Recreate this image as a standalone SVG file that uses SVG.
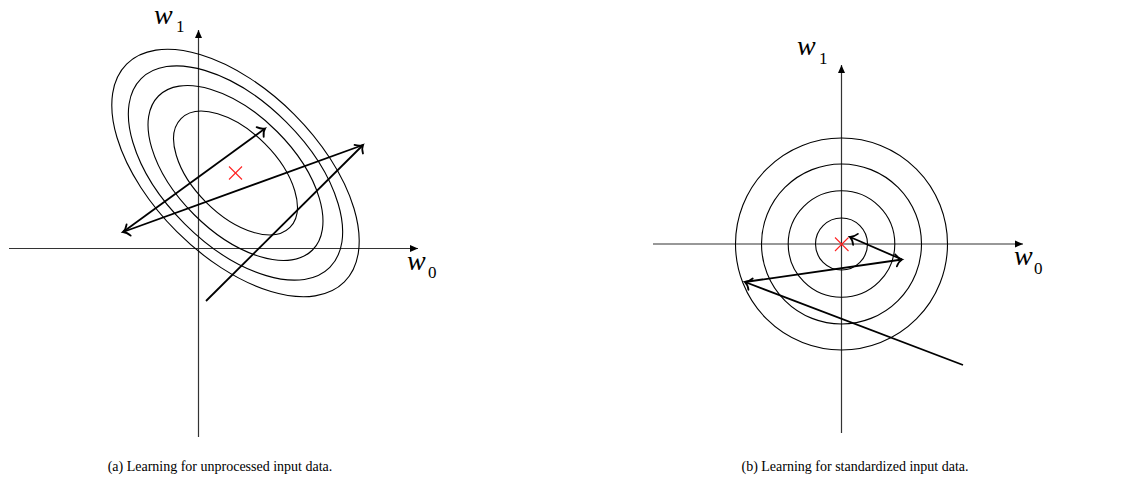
<svg xmlns="http://www.w3.org/2000/svg" width="1141" height="481" viewBox="0 0 1141 481">
<style>
.axis{stroke:#333;stroke-width:1.2;fill:none}
.ct{stroke:#000;stroke-width:1.1;fill:none}
.step{stroke:#000;stroke-width:1.8;fill:none;marker-end:url(#to)}
.opt{stroke:#ff2020;stroke-width:1.1}
.lbl{font-family:"Liberation Serif",serif;font-style:italic;font-size:28px;fill:#000}
.sub{font-family:"Liberation Serif",serif;font-size:17px;fill:#000}
.cap{font-family:"Liberation Serif",serif;font-size:14px;fill:#000;text-anchor:middle}
</style>
<defs>
<marker id="tri" markerUnits="userSpaceOnUse" markerWidth="12" markerHeight="12" refX="8" refY="0" viewBox="-2 -6 12 12" orient="auto">
<path d="M0,-3.5 L8,0 L0,3.5 Z" fill="#000"/>
</marker>
<marker id="to" markerUnits="userSpaceOnUse" markerWidth="14" markerHeight="14" refX="0" refY="0" viewBox="-8 -7 14 14" orient="auto" overflow="visible">
<path d="M-6,-6 C-4,-2.5 -1.5,-0.6 0,0 C-1.5,0.6 -4,2.5 -6,6" fill="none" stroke="#000" stroke-width="1.8" stroke-linecap="round"/>
</marker>
</defs>

<g id="panel-a">
<g id="axes-a">
<line class="axis" x1="9" y1="248.5" x2="418" y2="248.5" marker-end="url(#tri)"/>
<line class="axis" x1="198.5" y1="437" x2="198.5" y2="30" marker-end="url(#tri)"/>
</g>
<g id="contours-a" transform="translate(235.5,173) rotate(45)">
<ellipse class="ct" cx="0" cy="0" rx="77" ry="41.5"/>
<ellipse class="ct" cx="0" cy="0" rx="108.9" ry="58.7"/>
<ellipse class="ct" cx="0" cy="0" rx="133.4" ry="71.9"/>
<ellipse class="ct" cx="0" cy="0" rx="154" ry="83"/>
</g>
<g id="optimum-a">
<line class="opt" x1="229" y1="166.5" x2="242" y2="179.5"/>
<line class="opt" x1="242" y1="166.5" x2="229" y2="179.5"/>
</g>
<g id="label-w1-a"><text class="lbl" x="154" y="24">w</text><text class="sub" x="176" y="31.5">1</text></g>
<g id="label-w0-a"><text class="lbl" x="407" y="270">w</text><text class="sub" x="428" y="278">0</text></g>
<g id="caption-a"><text class="cap" x="220" y="471">(a) Learning for unprocessed input data.</text></g>
</g>

<g id="panel-b">
<g id="axes-b">
<line class="axis" x1="653" y1="244" x2="1023" y2="244" marker-end="url(#tri)"/>
<line class="axis" x1="841.5" y1="433" x2="841.5" y2="65" marker-end="url(#tri)"/>
</g>
<g id="contours-b">
<circle class="ct" cx="841.5" cy="244" r="26"/>
<circle class="ct" cx="841.5" cy="244" r="53.3"/>
<circle class="ct" cx="841.5" cy="244" r="80"/>
<circle class="ct" cx="841.5" cy="244" r="106"/>
</g>
<g id="optimum-b">
<line class="opt" x1="835" y1="237.5" x2="848.5" y2="251"/>
<line class="opt" x1="848.5" y1="237.5" x2="835" y2="251"/>
</g>
<g id="label-w1-b"><text class="lbl" x="797" y="55">w</text><text class="sub" x="819" y="64">1</text></g>
<g id="label-w0-b"><text class="lbl" x="1014" y="265">w</text><text class="sub" x="1034" y="274">0</text></g>
<g id="caption-b"><text class="cap" x="855" y="471">(b) Learning for standardized input data.</text></g>
</g>

<g id="connectors">
<line class="step" x1="206" y1="301" x2="363" y2="145"/>
<line class="step" x1="363" y1="145" x2="123" y2="232"/>
<line class="step" x1="123" y1="232" x2="265" y2="128.5"/>
<line class="step" x1="963" y1="365" x2="745" y2="282"/>
<line class="step" x1="745" y1="282" x2="902" y2="259.5"/>
<line class="step" x1="902" y1="259.5" x2="850" y2="237"/>
</g>
</svg>
